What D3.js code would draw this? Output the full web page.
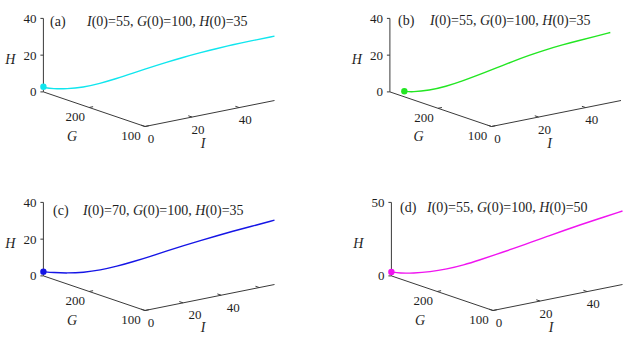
<!DOCTYPE html>
<html>
<head>
<meta charset="utf-8">
<script src="https://cdn.jsdelivr.net/npm/d3@7"></script>
<style>
  html, body { margin: 0; padding: 0; background: #fff; }
  svg { display: block; }
  text { font-family: "Liberation Serif", "Times New Roman", serif; fill: #1e1e1e; }
</style>
</head>
<body>
<script>
// ---------------- data ----------------
// (a) I(0)=55, G(0)=100, H(0)=35
const aI = [55, 49.1, 45.1, 41.1, 37.2, 33.2, 29.3, 25.3, 21.3, 17.4, 13.4, 9.5, 5.5, 2.3, 0.3, 0];
const aG = [100, 119.7, 132.8, 145.9, 159, 172.1, 185.2, 198.3, 211.4, 224.5, 237.6, 250.7, 263.8, 274.4, 281, 282];
const aH = [35, 31.8, 29.5, 27.0, 24.4, 21.6, 18.6, 15.4, 12.0, 8.7, 5.7, 3.3, 2.1, 1.9, 2.3, 2.8];
// (b) I(0)=55, G(0)=100, H(0)=35
const bI = [55, 51.1, 46.7, 42.2, 37.8, 33.3, 28.9, 24.4, 20.0, 15.5, 11.1, 6.6, 2.2, 0];
const bG = [120, 130.1, 141.6, 153.2, 164.8, 176.3, 187.9, 199.5, 211.1, 222.7, 234.3, 245.7, 257.4, 263];
const bH = [35, 32.9, 30.7, 28.3, 25.6, 22.6, 19.2, 15.6, 12.0, 8.6, 5.6, 3.5, 2.6, 3.0];
// (c) I(0)=70, G(0)=100, H(0)=35
const cI = [68, 60.9, 56.0, 51.1, 46.2, 41.3, 36.4, 31.5, 26.5, 21.6, 16.7, 11.8, 6.9, 3.0, 0];
const cG = [100, 118.9, 132.1, 145.2, 158.4, 171.5, 184.6, 197.7, 211, 224.1, 237.2, 250.3, 263.4, 274, 282];
const cH = [35, 31.0, 28.3, 25.4, 22.4, 19.3, 16.1, 12.8, 9.6, 6.7, 4.3, 2.7, 2.0, 2.0, 2.3];
// (d) I(0)=55, G(0)=100, H(0)=50
const dI = [55, 49.0, 45.0, 41.1, 37.1, 33.1, 29.1, 25.1, 21.1, 17.2, 13.2, 9.2, 5.2, 2.0, 0];
const dG = [100, 119.8, 132.9, 146.1, 159.3, 172.4, 185.7, 198.8, 212.1, 225.2, 238.5, 251.6, 264.9, 275.3, 282];
const dH = [50, 43.8, 39.6, 35.3, 30.8, 26.3, 21.8, 17.5, 13.2, 9.2, 6.0, 3.7, 2.4, 2.0, 2.7];

// tick values / labels
const iTicks = [0, 20, 40];
const iTicksC = [0, 20, 40, 60];
const iLabelsC = ["0", "20", "40", ""];
const gTicks = [100, 200];
const hTicks = [0, 20, 40];
const hTicksD = [0, 50];

// annotation values: [I(0), G(0), H(0)]
const initA = [55, 100, 35];
const initB = [55, 100, 35];
const initC = [70, 100, 35];
const initD = [55, 100, 50];

const colors = { a: "#10e6ee", b: "#22e622", c: "#1515e6", d: "#f014f0" };

// ---------------- layout ----------------
const W = 633, H = 346;
const vI = [129.5, -26];    // pixel vector of the full I axis
const vG = [-101.6, -34.6]; // pixel vector of the full G axis (100 -> Gmax)
const vH = [0, -73.5];      // pixel vector of the full H axis

const panels = [
  { key: "a", F: [145, 126.5], imax: 55, gmax: 282, hmax: 40, it: iTicks, il: iTicks.map(String), ildx: 6, ht: hTicks,
    I: aI, G: aG, Hv: aH, init: initA, letter: [50, 26], note: [87, 26] },
  { key: "b", F: [491.5, 126.5], imax: 55, gmax: 290, hmax: 40, it: iTicks, il: iTicks.map(String), ildx: 6, ht: hTicks,
    I: bI, G: bG, Hv: bH, init: initB, letter: [398, 25], note: [430, 25] },
  { key: "c", F: [145, 310.5], imax: 68, gmax: 282, hmax: 40, it: iTicksC, il: iLabelsC, ildx: 12, ht: hTicks,
    I: cI, G: cG, Hv: cH, init: initC, letter: [53, 215], note: [83, 215] },
  { key: "d", F: [493, 310.5], imax: 55, gmax: 282, hmax: 50, it: iTicks, il: iTicks.map(String), ildx: 6, ht: hTicksD,
    I: dI, G: dG, Hv: dH, init: initD, letter: [400, 212], note: [427, 212] }
];

const svg = d3.select("body").append("svg").attr("width", W).attr("height", H);
svg.append("rect").attr("width", W).attr("height", H).attr("fill", "#fff");

const unit = v => { const l = Math.hypot(v[0], v[1]); return [v[0] / l, v[1] / l]; };
const uI = unit(vI), uG = unit(vG);
const axisColor = "#3a3a3a";

panels.forEach(p => {
  const sI = d3.scaleLinear().domain([0, p.imax]).range([0, 1]);
  const sG = d3.scaleLinear().domain([100, p.gmax]).range([0, 1]);
  const sH = d3.scaleLinear().domain([0, p.hmax]).range([0, 1]);
  const proj = (i, g, h) => [
    p.F[0] + sI(i) * vI[0] + sG(g) * vG[0] + sH(h) * vH[0],
    p.F[1] + sI(i) * vI[1] + sG(g) * vG[1] + sH(h) * vH[1]
  ];
  const g = svg.append("g");
  const seg = (a, b) => g.append("line").attr("x1", a[0]).attr("y1", a[1]).attr("x2", b[0]).attr("y2", b[1])
    .attr("stroke", axisColor).attr("stroke-width", 1);

  // axes
  seg(proj(0, 100, 0), proj(0, p.gmax, 0));
  seg(proj(0, 100, 0), proj(p.imax, 100, 0));
  seg(proj(0, p.gmax, 0), proj(0, p.gmax, p.hmax));

  // G ticks
  gTicks.forEach(v => {
    const a = proj(0, v, 0);
    seg(a, [a[0] + uI[0] * 4, a[1] + uI[1] * 4]);
    g.append("text").attr("x", a[0] - 14).attr("y", a[1] + 9)
      .attr("text-anchor", "middle").attr("dominant-baseline", "central")
      .attr("font-size", 13).text(v);
  });
  // I ticks
  p.it.forEach((v, k) => {
    const a = proj(v, 100, 0);
    seg(a, [a[0] + uG[0] * 4, a[1] + uG[1] * 4]);
    if (p.il[k]) g.append("text").attr("x", a[0] + (v === 0 ? 6 : p.ildx)).attr("y", a[1] + 12)
      .attr("text-anchor", "middle").attr("dominant-baseline", "central")
      .attr("font-size", 13).text(p.il[k]);
  });
  // H ticks
  p.ht.forEach(v => {
    const a = proj(0, p.gmax, v);
    seg(a, [a[0] - 3, a[1]]);
    g.append("text").attr("x", a[0] - 7).attr("y", a[1])
      .attr("text-anchor", "end").attr("dominant-baseline", "central")
      .attr("font-size", 13).text(v);
  });

  // axis labels
  const F0 = proj(0, 100, 0), B0 = proj(0, p.gmax, 0);
  g.append("text").attr("x", F0[0] - 73).attr("y", F0[1] + 10).attr("text-anchor", "middle")
    .attr("dominant-baseline", "central").attr("font-size", 14).attr("font-style", "italic").text("G");
  g.append("text").attr("x", F0[0] + 58).attr("y", F0[1] + 17).attr("text-anchor", "middle")
    .attr("dominant-baseline", "central").attr("font-size", 14).attr("font-style", "italic").text("I");
  g.append("text").attr("x", B0[0] - 33).attr("y", B0[1] - 32).attr("text-anchor", "middle")
    .attr("dominant-baseline", "central").attr("font-size", 14).attr("font-style", "italic").text("H");

  // trajectory
  const pts = p.I.map((v, k) => proj(v, p.G[k], p.Hv[k]));
  g.append("path").attr("d", d3.line().curve(d3.curveBasis)(pts))
    .attr("fill", "none").attr("stroke", colors[p.key]).attr("stroke-width", 1.4);
  const last = pts[pts.length - 1];
  g.append("circle").attr("cx", last[0]).attr("cy", last[1]).attr("r", 3.2).attr("fill", colors[p.key]);

  // annotation
  g.append("text").attr("x", p.letter[0]).attr("y", p.letter[1]).attr("font-size", 14).text("(" + p.key + ")");
  const t = g.append("text").attr("x", p.note[0]).attr("y", p.note[1]).attr("font-size", 14);
  const names = ["I", "G", "H"];
  names.forEach((n, k) => {
    t.append("tspan").attr("font-style", "italic").text(n);
    t.append("tspan").text("(0)=" + p.init[k] + (k < 2 ? ", " : ""));
  });
});
</script>
</body>
</html>
